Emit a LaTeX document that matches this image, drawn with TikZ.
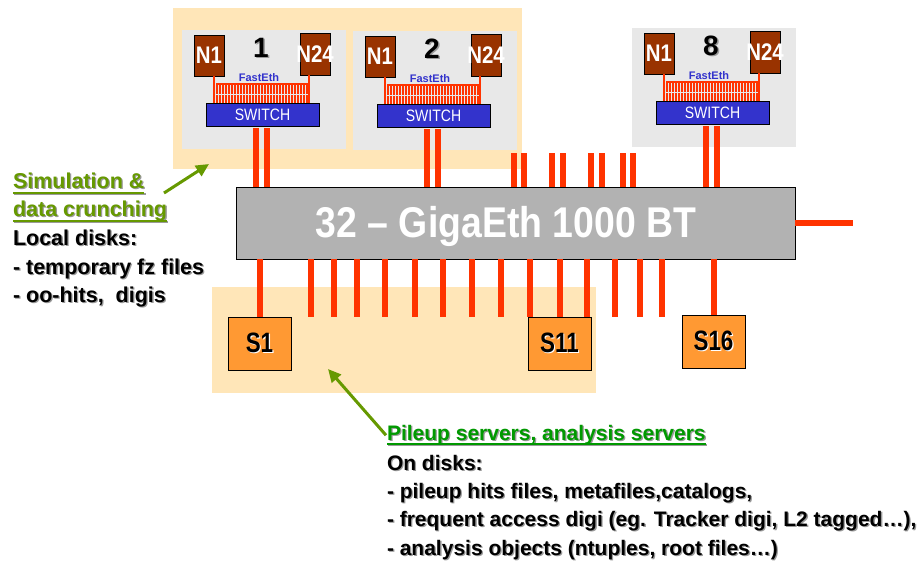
\documentclass[tikz,border=0pt]{standalone}
\usepackage{fontspec}
\setmainfont{Liberation Sans}
\usetikzlibrary{arrows.meta,calc}
\definecolor{peach}{HTML}{FFE6B8}
\definecolor{panel}{HTML}{E8E8E8}
\definecolor{nbrown}{HTML}{993300}
\definecolor{swblue}{HTML}{3333CC}
\definecolor{linkred}{HTML}{FF3300}
\definecolor{gigagray}{HTML}{B2B2B2}
\definecolor{srvorange}{HTML}{FF9933}
\definecolor{olivegreen}{HTML}{669900}
\definecolor{pgreen}{HTML}{009900}
\definecolor{shadowgray}{HTML}{9A9A9A}
\newcommand\fsz[1]{\fontsize{#1}{#1}\selectfont}
\newcommand\shadowed[2]{\leavevmode\rlap{\kern1.3pt\raisebox{-1.3pt}{\textcolor{#1}{#2}}}#2}
\newcommand\ntext[1]{\makebox[0pt]{\scalebox{0.85}[1]{#1}}}
\begin{document}
\begin{tikzpicture}[x=1pt,y=-1pt,
 every node/.style={inner sep=0pt, outer sep=0pt},
 link/.style={draw=linkred, line width=6pt},
 comb/.style={draw=linkred, line width=1.8pt},
 panelbox/.style={fill=panel, minimum width=164pt, minimum height=119pt, anchor=north west},
 nbox/.style={draw=black, line width=0.8pt, fill=nbrown, minimum width=30pt, minimum height=41pt, text=white, font={\fsz{24}\bfseries}, anchor=north west},
 swbox/.style={draw=black, line width=0.8pt, fill=swblue, minimum width=113pt, minimum height=23pt, text=white, font={\fsz{16.5}}, anchor=north west},
 numlbl/.style={anchor=base, font={\fsz{28}\bfseries}},
 fastlbl/.style={anchor=base, text=swblue, font={\fsz{11}\bfseries}},
 gigabox/.style={draw=black, line width=1pt, fill=gigagray, minimum width=559pt, minimum height=72pt, anchor=north west},
 gigalbl/.style={anchor=base, text=white, font={\fsz{43}\bfseries}},
 srv/.style={draw=black, line width=0.8pt, fill=srvorange, minimum width=63pt, minimum height=53pt, font={\fsz{28}\bfseries}, anchor=north west},
 lbl/.style={anchor=base west, font={\fsz{21.5}\bfseries}},
 blbl/.style={anchor=base west, font={\fsz{21}\bfseries}},
 ul/.style={line width=2pt},
 garrow/.style={draw=olivegreen, line width=3pt, -{Triangle[length=13pt,width=12pt]}}
]
\useasboundingbox (0,0) rectangle (922,563);
\fill[white] (0,0) rectangle (922,563);
% background areas
\fill[peach] (173,8) rectangle (522,169);
\fill[peach] (212,287) rectangle (596,393);

% clusters
\foreach \k/\dx/\dy/\num in {a/0/0/1, b/171/1/2, c/450/-2/8}{
 \begin{scope}[shift={(\dx,\dy)}]
  \node[panelbox] (g\k) at (182,30) {};
  \node[nbox] (na\k) at (194,35) {\ntext{N1}};
  \node[nbox, minimum height=42pt] (nb\k) at (300,33) {\ntext{N24}};
  \node[numlbl] (num\k) at (261,57) {\shadowed{shadowgray}{\num}};
  \node[fastlbl] (fe\k) at (259,81) {FastEth};
  \node[swbox] (sw\k) at (206,103) {\scalebox{0.85}[1]{SWITCH}};
  \foreach \t in {0,...,30}{
    \draw[comb] ({217+3*\t},84) -- ({217+3*\t},103);
  }
  \draw[comb] (216,84) -- (308,84);
  \draw[panel, line width=0.8pt] (215,94) -- (308,94);
  \coordinate (ca\k) at ([xshift=5pt]na\k.south);
  \coordinate (cb\k) at ([xshift=-6pt]nb\k.south);
  \draw[comb] (ca\k) -- (ca\k |- sw\k.north);
  \draw[comb] (cb\k) -- (cb\k |- sw\k.north);
 \end{scope}
}

% central switch
\node[gigabox] (giga) at (236,187) {};
\node[gigalbl] (gigatxt) at (506,237) {\scalebox{0.87}[1]{32 – GigaEth 1000 BT}};

% uplinks from cluster switches
\foreach \k in {a,b,c}{
  \coordinate (ua\k) at ([xshift=-6.5pt,yshift=-2pt]sw\k.south);
  \coordinate (ub\k) at ([xshift=4.5pt,yshift=-2pt]sw\k.south);
  \draw[link] (ua\k) -- (ua\k |- giga.north);
  \draw[link] (ub\k) -- (ub\k |- giga.north);
}
% other top stubs
\foreach \x in {514,524,552,563,591,602,623,633}{
  \coordinate (t\x) at (\x,153);
  \draw[link] (t\x) -- (t\x |- giga.north);
}
% right link
\coordinate (rt) at (853,223);
\draw[link] (giga.east) -- (rt);

% servers
\node[srv] (s1) at (228,317) {\scalebox{0.8}[1]{\shadowed{white}{S1}}};
\node[srv] (s11) at (528,317) {\scalebox{0.8}[1]{\shadowed{white}{S11}}};
\node[srv] (s16) at (682,315) {\scalebox{0.8}[1]{\shadowed{white}{S16}}};
\draw[link] (s1.north |- giga.south) -- (s1.north);
\draw[link] (s11.north |- giga.south) -- (s11.north);
\draw[link] (s16.north |- giga.south) -- (s16.north);
% bottom stubs
\foreach \x in {311,334,357,385,415,443,472,501,530,587,615,640,662}{
  \coordinate (e\x) at (\x,317);
  \draw[link] (e\x |- giga.south) -- (e\x);
}

% left text
\node[lbl, text=olivegreen] (sim) at (13,188) {\shadowed{shadowgray}{Simulation \&}};
\node[lbl, text=olivegreen] (crunch) at (13,216) {\shadowed{shadowgray}{data crunching}};
\node[lbl] (local) at (13,245) {\shadowed{shadowgray}{Local disks:}};
\node[lbl] (tmpfz) at (13,274) {\shadowed{shadowgray}{- temporary fz files}};
\node[lbl] (oohits) at (13,302) {\shadowed{shadowgray}{- oo-hits,~ digis}};
\draw[ul, shadowgray] ([shift={(1.3pt,-5.8pt)}]sim.base west) -- ([shift={(1.3pt,-5.8pt)}]sim.base east);
\draw[ul, olivegreen] ([yshift=-4.5pt]sim.base west) -- ([yshift=-4.5pt]sim.base east);
\draw[ul, shadowgray] ([shift={(1.3pt,-6.3pt)}]crunch.base west) -- ([shift={(1.3pt,-6.3pt)}]crunch.base east);
\draw[ul, olivegreen] ([yshift=-5pt]crunch.base west) -- ([yshift=-5pt]crunch.base east);

% bottom text
\node[blbl, text=pgreen] (pile) at (387,440) {\shadowed{shadowgray}{Pileup servers, analysis servers}};
\node[blbl] (ondisks) at (387,470) {\shadowed{shadowgray}{On disks:}};
\node[blbl] (l1) at (387,498) {\shadowed{shadowgray}{- pileup hits files, metafiles,catalogs,}};
\node[blbl] (l2) at (387,526) {\shadowed{shadowgray}{- frequent access digi (eg. Tracker digi, L2 tagged…),}};
\node[blbl] (l3) at (387,555) {\shadowed{shadowgray}{- analysis objects (ntuples, root files…)}};
\draw[ul, shadowgray] ([shift={(1.3pt,-5.3pt)}]pile.base west) -- ([shift={(1.3pt,-5.3pt)}]pile.base east);
\draw[ul, pgreen] ([yshift=-4pt]pile.base west) -- ([yshift=-4pt]pile.base east);

% arrows
\coordinate (tailA) at (164,193);
\coordinate (tipA) at (209,164);
\draw[garrow] (tailA) -- (tipA);
\coordinate (tipB) at (328,369);
\draw[garrow] ([xshift=-1pt]pile.west) -- (tipB);
\end{tikzpicture}
\end{document}
